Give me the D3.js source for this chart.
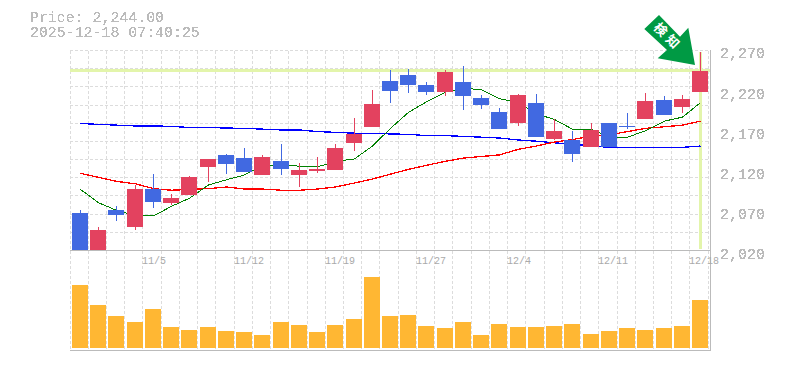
<!DOCTYPE html>
<html>
<head>
<meta charset="utf-8">
<script src="https://cdn.jsdelivr.net/npm/d3@7/dist/d3.min.js"></script>
<style>
html,body{margin:0;padding:0;background:#fff;}
svg{display:block;}
text{font-family:"Liberation Mono",monospace;fill:#bbb;}
</style>
</head>
<body>
<div id="chart"></div>
<script>
const dates = ["10/29","10/30","10/31","11/4","11/5","11/6","11/7","11/10","11/11","11/12","11/13","11/14","11/17","11/18","11/19","11/20","11/21","11/25","11/26","11/27","11/28","12/1","12/2","12/3","12/4","12/5","12/8","12/9","12/10","12/11","12/12","12/15","12/16","12/17","12/18"];
const opens  = [2067,2020,2070,2049,2096,2079,2089,2124,2139,2135,2114,2131,2114,2119,2120,2154,2174,2231,2238,2226,2217,2230,2210,2192,2179,2204,2159,2157,2149,2179,2175,2184,2207,2199,2217];
const highs  = [2070,2049,2075,2101,2115,2090,2113,2134,2140,2148,2139,2152,2129,2136,2152,2185,2220,2245,2246,2230,2245,2250,2213,2197,2215,2215,2184,2169,2179,2179,2191,2216,2212,2213,2267];
const lows   = [2021,2020,2057,2046,2073,2077,2089,2105,2115,2118,2114,2114,2099,2116,2120,2144,2174,2204,2216,2213,2212,2195,2196,2171,2175,2161,2157,2130,2149,2149,2171,2184,2189,2191,2217];
const closes = [2021,2045,2064,2096,2080,2085,2111,2134,2128,2118,2136,2121,2120,2121,2148,2165,2202,2218,2226,2217,2242,2212,2201,2171,2213,2161,2169,2140,2170,2149,2174,2206,2189,2208,2244];
const maShort = [2096,2079.5,2070,2063,2063,2075,2085,2101.5,2108,2114,2126,2126,2125,2124,2131,2134,2150,2172,2192,2205,2217,2222,2220,2209,2204,2190,2183,2171,2171,2161,2161,2169,2181,2186,2204];
const maMid   = [2116,2111,2106,2103,2097,2095,2096,2097,2099,2096.5,2096.5,2095,2095,2096.5,2099,2104,2109,2115,2121,2126,2131,2135,2137,2139,2146,2150,2155,2158,2162.5,2164,2168,2172,2174,2176,2181];
const maLong  = [2178,2177,2176,2175,2175,2174.5,2173,2173,2172.4,2172,2171,2170,2170,2168,2167,2166,2166,2165,2164.6,2163,2163,2162,2161,2160,2157.5,2156,2154,2152.5,2150,2148.4,2148.4,2148.4,2148.4,2148.4,2150];
const volumes = [63,43,32,26,39,21,18,21,17,16,13,26,23,16,23,29,71,32,33,22,20,26,13,24,21,21,22,24,14,17,20,18,20,22,48];
const priceTicks = [2020,2070,2120,2170,2220,2270];
const dateTicks = ["11/5","11/12","11/19","11/27","12/4","12/11","12/18"];
const gridRows = d3.range(12);
const lastPrice = 2244;
const infoLines = ["Price: 2,244.00","2025-12-18 07:40:25"];
const signalLabel = "検知";

const svg = d3.select("#chart").append("svg").attr("width",785).attr("height",370);

/* aliased text look */
const flt = svg.append("defs").append("filter").attr("id","alias")
  .attr("x","-5%").attr("y","-20%").attr("width","110%").attr("height","140%")
  .attr("color-interpolation-filters","sRGB");
flt.append("feComponentTransfer").append("feFuncA").attr("type","discrete").attr("tableValues","0 1 1");

const x = d3.scaleBand().domain(dates).range([70, 70 + 35*18.235]);
const y = d3.scaleLinear().domain([2020, lastPrice]).range([250.5, 70.5]);
const yGrid = d3.scaleLinear().domain([0,11]).range([250.5,50.5]);
const yVol = d3.scaleLinear().domain([0,100]).range([348,248]);

const left = d => Math.round(x(d)+2);
const mid  = d => left(d)+8.5;
const gridX = dates.map(d=>Math.floor(x(d))+0.5).concat([708.5]);

/* grid */
const grid = svg.append("g").attr("stroke","#dcdcdc").attr("stroke-dasharray","3 2").attr("shape-rendering","crispEdges");
grid.selectAll("line.v").data(gridX).join("line").attr("class","v")
  .attr("x1",d=>d).attr("x2",d=>d).attr("y1",50.5).attr("y2",350);
grid.selectAll("line.h").data(gridRows).join("line").attr("class","h")
  .attr("x1",70).attr("x2",708).attr("y1",d=>Math.floor(yGrid(d))+0.5).attr("y2",d=>Math.floor(yGrid(d))+0.5);

/* last price & last date highlight */
const band = svg.append("g").attr("fill","#e3f5ab").attr("shape-rendering","crispEdges");
band.append("rect").attr("x",70).attr("width",640).attr("y",y(lastPrice)-1.5).attr("height",3);
band.append("rect").attr("x",left(dates[34])+7).attr("width",3).attr("y",52).attr("height",197);

/* moving averages */
const line = vals => d3.line().x((v,i)=>mid(dates[i])).y(v=>y(v))(vals);
const mas = [[maLong,"#0000ff",1.3],[maMid,"#ff0000",1.3],[maShort,"#008000",1]];
svg.append("g").selectAll("path").data(mas).join("path")
  .attr("d",d=>line(d[0])).attr("fill","none").attr("stroke",d=>d[1]).attr("stroke-width",d=>d[2])
  .attr("shape-rendering","crispEdges");

/* candles */
const candles = svg.append("g").attr("shape-rendering","crispEdges");
dates.forEach((d,i)=>{
  const up = closes[i]>=opens[i];
  const col = up ? "#e3425f" : "#4169e1";
  const top = Math.round(y(Math.max(opens[i],closes[i])));
  const bot = Math.round(y(Math.min(opens[i],closes[i])));
  candles.append("rect").attr("x",left(d)+8).attr("width",1)
    .attr("y",Math.round(y(highs[i]))).attr("height",Math.max(0,Math.round(y(lows[i]))-Math.round(y(highs[i])))).attr("fill",col);
  candles.append("rect").attr("x",left(d)).attr("width",16)
    .attr("y",top).attr("height",Math.max(1,bot-top)).attr("fill",col);
});

/* volume */
svg.append("g").attr("fill","#ffb733").attr("shape-rendering","crispEdges")
  .selectAll("rect").data(volumes).join("rect")
  .attr("x",(v,i)=>left(dates[i])).attr("width",16)
  .attr("y",v=>Math.round(yVol(v))).attr("height",v=>348-Math.round(yVol(v)));

/* frame */
const frame = svg.append("g").attr("stroke","#bbb").attr("shape-rendering","crispEdges");
frame.append("line").attr("x1",70).attr("x2",711).attr("y1",250.5).attr("y2",250.5);
frame.append("line").attr("x1",70).attr("x2",711).attr("y1",350.5).attr("y2",350.5);
frame.append("line").attr("x1",710.5).attr("x2",710.5).attr("y1",50).attr("y2",351);

/* axes */
const yAxis = d3.axisRight(y).tickValues(priceTicks).tickSize(0).tickPadding(0).tickFormat(d3.format(","));
const gy = svg.append("g").attr("transform","translate(720,3.5)").attr("filter","url(#alias)").call(yAxis);
gy.select(".domain").remove();
gy.selectAll("text").attr("font-size",15).attr("x",0).attr("dy","0.32em").style("font-family",'"Liberation Mono",monospace');

const xAxis = d3.axisBottom(x).tickValues(dateTicks).tickSize(0).tickPadding(0);
const gx = svg.append("g").attr("transform","translate(0,257)").call(xAxis);
gx.select(".domain").remove();
gx.selectAll(".tick").attr("transform",d=>`translate(${Math.floor(x(d))},0)`);
gx.selectAll("text").attr("text-anchor","start").attr("font-size",10).attr("y",0).attr("dy","0.71em").style("font-family",'"Liberation Mono",monospace').style("fill","#aaa");

/* info text */
svg.append("g").attr("filter","url(#alias)")
  .selectAll("text").data(infoLines).join("text")
  .attr("x",30).attr("y",(d,i)=>22+i*15).attr("font-size",14.9).text(d=>d);

/* signal arrow */
const arrowPts = [[644.3,29],[659,15],[680,36.7],[688.3,27.7],[695,65],[657.7,58.3],[667,50]];
const ag = svg.append("g");
ag.append("polygon").attr("points",arrowPts.map(p=>p.join(",")).join(" ")).attr("fill","#009a44");
ag.append("text").attr("transform","translate(668,37) rotate(45)").attr("text-anchor","middle").attr("dy","0.36em")
  .style("font-family",'"Noto Sans CJK JP"').style("font-weight",700).style("fill","#fff").style("letter-spacing","4px").attr("font-size",13).text(signalLabel);
</script>
</body>
</html>
